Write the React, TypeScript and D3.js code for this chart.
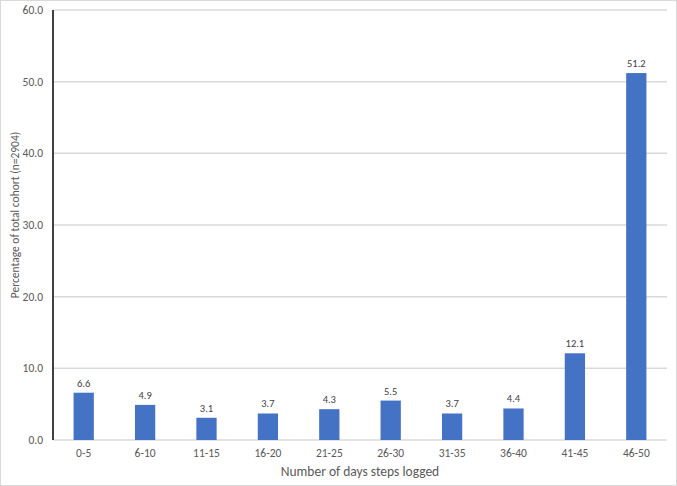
import React from 'react';
import * as d3 from 'd3';

const categories = ['0-5', '6-10', '11-15', '16-20', '21-25', '26-30', '31-35', '36-40', '41-45', '46-50'];
const values = [6.6, 4.9, 3.1, 3.7, 4.3, 5.5, 3.7, 4.4, 12.1, 51.2];
const yTicks = [0, 10, 20, 30, 40, 50, 60];

const W = 677;
const H = 486;
const m = { left: 53, right: 10, top: 10, bottom: 46 };
const font = "Carlito, Calibri, 'Liberation Sans', sans-serif";

export default function App() {
  const x = d3.scaleBand().domain(categories).range([m.left, W - m.right]).paddingInner(0.67).paddingOuter(0.335);
  const y = d3.scaleLinear().domain([0, 60]).range([H - m.bottom, m.top]);

  return (
    <svg width={W} height={H} style={{ position: 'absolute', left: 0, top: 0, background: '#fff' }}>
      <rect x={0.5} y={0.5} width={W - 1} height={H - 1} fill="#fff" stroke="#d9d9d9" />
      {yTicks.map(t => (
        <g key={t}>
          {t > 0 && <line x1={m.left} x2={W - m.right} y1={y(t)} y2={y(t)} stroke="#d9d9d9" strokeWidth={1.5} />}
          <text x={m.left - 10} y={y(t)} dy="0.35em" textAnchor="end" fontFamily={font} fontSize={11.5} fill="#595959">{t.toFixed(1)}</text>
        </g>
      ))}
      <line x1={m.left} x2={W - m.right} y1={y(0)} y2={y(0)} stroke="#d9d9d9" strokeWidth={1.5} />
      {categories.map((c, i) => (
        <g key={c}>
          <rect x={x(c)} y={y(values[i])} width={x.bandwidth()} height={y(0) - y(values[i])} fill="#4472c4" />
          <text x={x(c)! + x.bandwidth() / 2} y={y(values[i]) - 6} textAnchor="middle" fontFamily={font} fontSize={10.5} fill="#404040">{values[i].toFixed(1)}</text>
          <text x={x(c)! + x.bandwidth() / 2} y={y(0) + 17} textAnchor="middle" fontFamily={font} fontSize={11.5} fill="#595959">{c}</text>
        </g>
      ))}
      <line x1={m.left} x2={m.left} y1={m.top} y2={y(0)} stroke="#404040" strokeWidth={2} />
      <text transform={`translate(19,215) rotate(-90)`} textAnchor="middle" fontFamily={font} fontSize={11.5} fill="#595959">Percentage of total cohort (n=2904)</text>
      <text x={360} y={476} textAnchor="middle" fontFamily={font} fontSize={13.5} fill="#595959">Number of days steps logged</text>
    </svg>
  );
}
